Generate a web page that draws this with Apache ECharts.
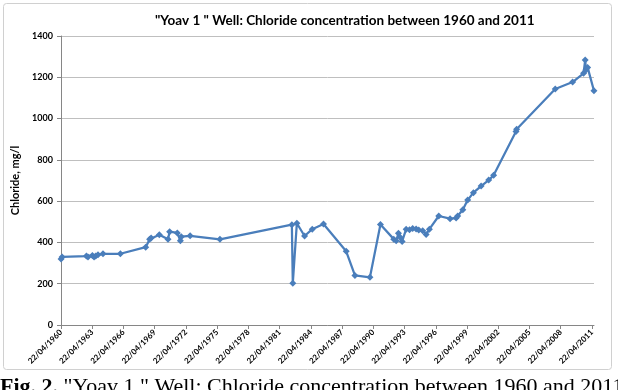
<!DOCTYPE html>
<html>
<head>
<meta charset="utf-8">
<script src="https://cdn.jsdelivr.net/npm/echarts@6/dist/echarts.min.js"></script>
<style>
  html, body { margin: 0; padding: 0; background: #fff; }
  #chart { width: 618px; height: 390px; }
</style>
</head>
<body>
<div id="chart"></div>
<script>
  // sampling dates as decimal years
  var sampleYears = [
    1960.31, 1960.41, 1962.75, 1962.90, 1963.32, 1963.48, 1963.64, 1963.86,
    1964.34, 1966.01, 1968.44, 1968.82, 1968.96, 1969.75, 1970.58, 1970.74,
    1971.48, 1971.77, 1971.86, 1972.71, 1975.57, 1982.48, 1982.57, 1982.96,
    1983.70, 1984.44, 1985.52, 1987.70, 1988.54, 1989.98, 1990.99, 1992.27,
    1992.50, 1992.72, 1992.88, 1993.07, 1993.46, 1993.78, 1994.09, 1994.42,
    1994.67, 1995.05, 1995.38, 1995.69, 1996.59, 1997.68, 1998.26, 1998.41,
    1998.90, 1999.37, 1999.92, 2000.66, 2001.39, 2001.86, 2004.01, 2004.07,
    2007.78, 2009.45, 2010.50, 2010.66, 2010.73, 2010.89, 2011.50
  ]
  // chloride, mg/l
  var chloride = [
    320, 330, 334, 330, 337, 330, 334, 340,
    345, 345, 377, 415, 422, 437, 415, 452,
    446, 408, 428, 432, 415, 486, 202, 493,
    431, 464, 489, 357, 240, 231, 487, 416,
    408, 444, 425, 405, 464, 462, 467, 465,
    460, 457, 438, 464, 528, 515, 518, 528,
    558, 605, 641, 673, 702, 725, 937, 948,
    1143, 1177, 1219, 1284, 1235, 1248, 1135
  ]
  var baseYear = 1960 + 111 / 365 // 22/04/1960
  var yTicks = [0, 200, 400, 600, 800, 1000, 1200, 1400]

  var points = []
  for (var i = 0; i < sampleYears.length; i++) {
    points.push([sampleYears[i] - baseYear, chloride[i]])
  }

  var chart = echarts.init(document.getElementById('chart'))
  chart.setOption({
    backgroundColor: '#ffffff',
    animation: false,
    title: {
      text: '"Yoav 1 " Well: Chloride concentration between 1960 and 2011',
      left: 150,
      top: 9,
      textStyle: {
        fontFamily: 'Lato',
        fontWeight: 'bold',
        fontSize: 13.5,
        color: '#000',
      },
    },
    graphic: [
      {
        type: 'rect',
        shape: { x: 3.5, y: 3.5, width: 608, height: 366, r: 3 },
        style: { fill: 'none', stroke: '#d0d0d0', lineWidth: 1 },
        silent: true,
      },
      {
        type: 'text',
        left: 0,
        top: 376,
        style: {
          text: '{b|Fig. 2.} "Yoav 1 " Well: Chloride concentration between 1960 and 2011',
          font: '22px "Liberation Serif"',
          fill: '#000',
          rich: {
            b: { fontWeight: 'bold', fontFamily: 'Liberation Serif', fontSize: 22 },
          },
        },
      },
    ],
    grid: {
      left: 61,
      right: 24,
      top: 36,
      bottom: 65,
    },
    xAxis: {
      type: 'value',
      min: 0,
      max: 51.2,
      interval: 3,
      axisLine: { lineStyle: { color: '#868686' } },
      axisTick: { length: 4, lineStyle: { color: '#868686' } },
      splitLine: { show: false },
      axisLabel: {
        rotate: 45,
        fontSize: 8,
        fontWeight: 'bold',
        fontFamily: 'Lato',
        color: '#000',
        margin: 6,
        showMaxLabel: false,
        formatter: function (v) {
          if (Math.abs(v - Math.round(v)) > 0.01) return ''
          return '22/04/' + (1960 + Math.round(v))
        },
      },
    },
    yAxis: {
      type: 'value',
      name: 'Chloride, mg/l',
      nameLocation: 'middle',
      nameGap: 37,
      nameTextStyle: { fontFamily: 'Lato', fontWeight: 'bold', fontSize: 11, color: '#000' },
      min: yTicks[0],
      max: yTicks[yTicks.length - 1],
      interval: 200,
      axisLine: { show: true, lineStyle: { color: '#868686' } },
      axisTick: { show: true, length: 4, lineStyle: { color: '#868686' } },
      splitLine: { lineStyle: { color: '#bfbfbf' } },
      axisLabel: {
        fontSize: 9,
        fontWeight: 'bold',
        fontFamily: 'Lato',
        color: '#000',
        margin: 8,
        formatter: function (v) {
          return String(v)
        },
      },
    },
    series: [
      {
        type: 'line',
        data: points,
        symbol: 'diamond',
        symbolSize: 7,
        lineStyle: { color: '#4a7ebb', width: 2.25 },
        itemStyle: { color: '#4a7ebb' },
      },
    ],
  })
</script>
</body>
</html>
